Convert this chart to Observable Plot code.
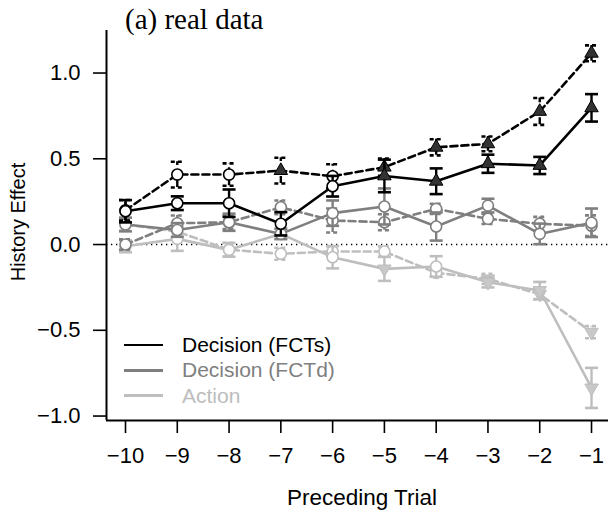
<!DOCTYPE html>
<html><head><meta charset="utf-8">
<script src="https://cdn.jsdelivr.net/npm/d3@7"></script>
<script src="https://cdn.jsdelivr.net/npm/@observablehq/plot@0.6"></script>
<style>
body{margin:0;background:#fff;}
#wrap{position:relative;width:608px;height:516px;overflow:hidden;font-family:"Liberation Sans",Arial,Helvetica,sans-serif;}
#wrap svg{position:absolute;left:0;top:0;}
.ov{position:absolute;white-space:nowrap;line-height:1;}
#title{left:125px;top:5px;font-family:"Liberation Serif","Times New Roman",serif;font-size:29px;color:#000;}
#xlab{left:362px;top:487px;transform:translateX(-50%);font-size:22.5px;}
#ylab{left:18px;top:222px;transform:translate(-50%,-50%) rotate(-90deg);font-size:20px;}
.legrow{position:absolute;left:124px;height:25px;display:flex;align-items:center;font-size:21px;}
.legrow span.ln{display:inline-block;width:39px;height:2.5px;margin-right:19px;}
</style></head>
<body>
<div id="wrap"></div>
<script>
// ---- data ----
const trials = [-10, -9, -8, -7, -6, -5, -4, -3, -2, -1];
const yTicks = [-1, -0.5, 0, 0.5, 1];

const fctsSolid     = [0.194, 0.241, 0.241, 0.121, 0.340, 0.400, 0.369, 0.471, 0.461, 0.797];
const fctsSolidErr  = [0.065, 0.040, 0.080, 0.068, 0.060, 0.095, 0.075, 0.053, 0.050, 0.080];
const fctsSolidSig  = [0, 0, 0, 0, 0, 1, 1, 1, 1, 1];
const fctsDashed    = [0.200, 0.408, 0.408, 0.431, 0.398, 0.451, 0.567, 0.587, 0.776, 1.115];
const fctsDashedErr = [0.060, 0.075, 0.065, 0.075, 0.070, 0.050, 0.047, 0.043, 0.078, 0.046];
const fctsDashedSig = [0, 0, 0, 1, 0, 1, 1, 1, 1, 1];

const fctdSolid     = [0.117, 0.085, 0.130, 0.062, 0.183, 0.222, 0.105, 0.227, 0.062, 0.127];
const fctdSolidErr  = [0.040, 0.040, 0.050, 0.030, 0.074, 0.105, 0.082, 0.040, 0.060, 0.083];
const fctdSolidSig  = [0, 0, 0, 0, 0, 0, 0, 0, 0, 0];
const fctdDashed    = [0.000, 0.124, 0.130, 0.217, 0.140, 0.130, 0.208, 0.150, 0.121, 0.110];
const fctdDashedErr = [0.030, 0.045, 0.040, 0.040, 0.070, 0.047, 0.030, 0.030, 0.040, 0.060];
const fctdDashedSig = [0, 0, 0, 0, 0, 0, 0, 0, 0, 0];

const actionSolid     = [-0.010, 0.033, -0.031, 0.062, -0.074, -0.142, -0.128, -0.220, -0.268, -0.836];
const actionSolidErr  = [0.035, 0.070, 0.040, 0.030, 0.065, 0.070, 0.060, 0.030, 0.050, 0.117];
const actionSolidSig  = [0, 0, 0, 0, 0, 1, 0, 1, 1, 1];
const actionDashed    = [0.117, 0.075, -0.030, -0.054, -0.040, -0.041, -0.165, -0.200, -0.290, -0.511];
const actionDashedErr = [0.035, 0.040, 0.040, 0.035, 0.030, 0.030, 0.020, 0.030, 0.030, 0.035];
const actionDashedSig = [0, 0, 0, 0, 0, 0, 0, 1, 1, 1];

const legendLabels = ["Decision (FCTs)", "Decision (FCTd)", "Action"];
const legendColors = ["#000000", "#7f7f7f", "#bebebe"];

// ---- styling ----
const series = [
  {vals: actionDashed, errs: actionDashedErr, sig: actionDashedSig, color: "#bebebe", fill: "#c8c8c8", dashed: true},
  {vals: actionSolid,  errs: actionSolidErr,  sig: actionSolidSig,  color: "#bebebe", fill: "#c8c8c8", dashed: false},
  {vals: fctdDashed,   errs: fctdDashedErr,   sig: fctdDashedSig,   color: "#7f7f7f", fill: "#7f7f7f", dashed: true},
  {vals: fctdSolid,    errs: fctdSolidErr,    sig: fctdSolidSig,    color: "#7f7f7f", fill: "#7f7f7f", dashed: false},
  {vals: fctsDashed,   errs: fctsDashedErr,   sig: fctsDashedSig,   color: "#000000", fill: "#333333", dashed: true},
  {vals: fctsSolid,    errs: fctsSolidErr,    sig: fctsSolidSig,    color: "#000000", fill: "#333333", dashed: false}
];

const capSym = {draw(ctx, size) { const r = Math.sqrt(size / Math.PI); ctx.moveTo(-r, 0); ctx.lineTo(r, 0); }};
const triUp = {draw(ctx, size) { const a = Math.sqrt(size / Math.PI);
  ctx.moveTo(0, -1.555 * a); ctx.lineTo(1.347 * a, 0.778 * a); ctx.lineTo(-1.347 * a, 0.778 * a); ctx.closePath(); }};
const triDown = {draw(ctx, size) { const a = Math.sqrt(size / Math.PI);
  ctx.moveTo(0, 1.555 * a); ctx.lineTo(1.347 * a, -0.778 * a); ctx.lineTo(-1.347 * a, -0.778 * a); ctx.closePath(); }};

const xDomain = [-10.367, -0.672];
const yDomain = [-1.026, 1.248];

const marks = [
  Plot.ruleY([0], {stroke: "#000", strokeWidth: 1.6, strokeDasharray: "1.3,3.7"}),
  Plot.ruleX([xDomain[0]], {stroke: "#000", strokeWidth: 2}),
  Plot.ruleY([yDomain[0]], {stroke: "#000", strokeWidth: 2}),
  Plot.axisY({ticks: yTicks, tickSize: 13, tickPadding: 13, strokeWidth: 1.6, fontSize: 22,
              tickFormat: d3.format(".1f"), label: null}),
  Plot.axisX({ticks: trials, tickSize: 13, tickPadding: 14, strokeWidth: 1.6, fontSize: 22,
              tickFormat: d => d3.format("d")(d), label: null})
];

for (const s of series) {
  const data = trials.map((t, i) => ({t, v: s.vals[i], e: s.errs[i], sig: s.sig[i]}));
  const dash = s.dashed ? "7,4" : null;
  const capDash = s.dashed ? "4,3" : null;
  marks.push(
    Plot.line(data, {x: "t", y: "v", stroke: s.color, strokeWidth: 2.6, strokeDasharray: dash}),
    Plot.ruleX(data, {x: "t", y1: d => d.v - d.e, y2: d => d.v + d.e, stroke: s.color, strokeWidth: 2.4, strokeDasharray: dash}),
    Plot.dot(data, {x: "t", y: d => d.v + d.e, symbol: capSym, r: 6.5, fill: "none", stroke: s.color, strokeWidth: 2.6, strokeDasharray: capDash}),
    Plot.dot(data, {x: "t", y: d => d.v - d.e, symbol: capSym, r: 6.5, fill: "none", stroke: s.color, strokeWidth: 2.6, strokeDasharray: capDash}),
    Plot.dot(data.filter(d => !d.sig), {x: "t", y: "v", r: 5.5, fill: "white", stroke: s.color, strokeWidth: 1.6}),
    Plot.dot(data.filter(d => d.sig && d.v >= 0), {x: "t", y: "v", symbol: triUp, r: 5, fill: s.fill, stroke: s.color, strokeWidth: 1}),
    Plot.dot(data.filter(d => d.sig && d.v < 0), {x: "t", y: "v", symbol: triDown, r: 5, fill: s.fill, stroke: s.color, strokeWidth: 1})
  );
}

const chart = Plot.plot({
  width: 608, height: 516,
  marginLeft: 106, marginRight: 0, marginTop: 30, marginBottom: 96,
  style: {fontFamily: "'Liberation Sans', Arial, Helvetica, sans-serif", fontSize: "22px", color: "#000", background: "#fff"},
  x: {domain: xDomain},
  y: {domain: yDomain},
  marks
});

const wrap = document.getElementById("wrap");
wrap.appendChild(chart);

function addDiv(id, cls, text) {
  const d = document.createElement("div");
  if (id) d.id = id;
  d.className = cls;
  d.textContent = text;
  wrap.appendChild(d);
  return d;
}
addDiv("title", "ov", "(a) real data");
addDiv("xlab", "ov", "Preceding Trial");
addDiv("ylab", "ov", "History Effect");

legendLabels.forEach((lab, i) => {
  const row = document.createElement("div");
  row.className = "legrow";
  row.style.top = (332.5 + i * 25.3) + "px";
  const ln = document.createElement("span");
  ln.className = "ln";
  ln.style.background = legendColors[i];
  const tx = document.createElement("span");
  tx.textContent = lab;
  tx.style.color = i === 0 ? "#000" : legendColors[i] === "#7f7f7f" ? "#808080" : "#bdbdbd";
  row.appendChild(ln);
  row.appendChild(tx);
  wrap.appendChild(row);
});
</script>
</body></html>
